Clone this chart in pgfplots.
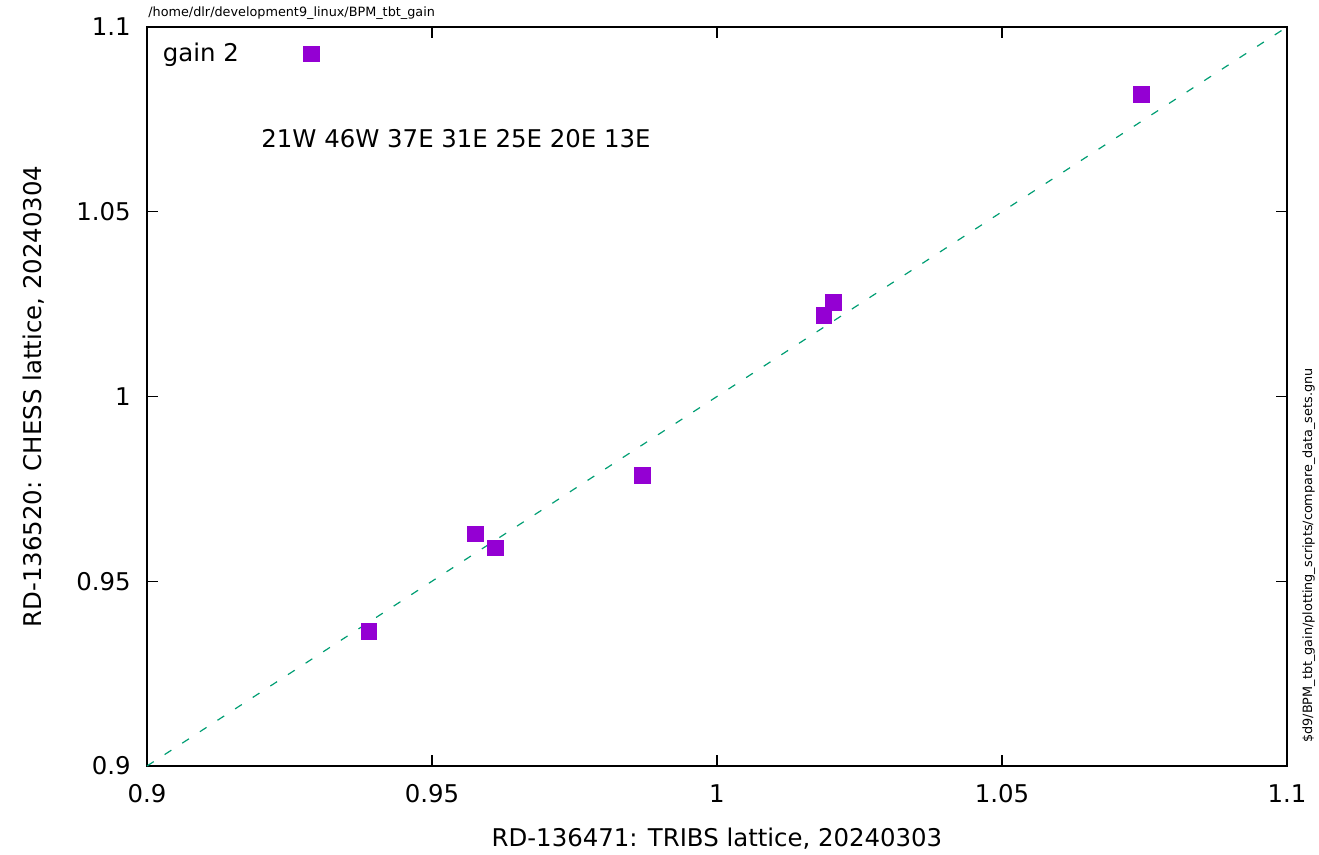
\documentclass[border=0pt]{standalone}
\usepackage{fontspec}
\setmainfont{DejaVu Sans}
\usepackage{pgfplots}
\pgfplotsset{compat=1.18}
\usetikzlibrary{calc}
\definecolor{gpviolet}{HTML}{9400D3}
\definecolor{gpgreen}{HTML}{009E73}
\begin{document}
\begin{tikzpicture}
\begin{axis}[name=ax, scale only axis, width=570pt, height=369.5pt,
  xmin=0.9, xmax=1.1, ymin=0.9, ymax=1.1,
  xtick={0.9,0.95,1,1.05,1.1}, ytick={0.9,0.95,1,1.05,1.1},
  xticklabels={0.9,0.95,1,1.05,1.1}, yticklabels={0.9,0.95,1,1.05,1.1},
  tick align=inside, major tick length=5.5pt, minor tick num=0,
  axis line style={line width=1pt},
  every tick/.style={black, line width=0.6pt},
  font=\fontsize{12.2}{14.6}\selectfont,
  xticklabel style={anchor=base, inner sep=0pt, yshift=-18.5pt},
  yticklabel style={anchor=east, inner sep=0pt, xshift=-8pt},
  xlabel={RD-136471: TRIBS lattice, 20240303},
  ylabel={RD-136520: CHESS lattice, 20240304},
  xlabel style={at={(rel axis cs:0.5,0)}, anchor=base, inner sep=0pt, yshift=-40.5pt},
  ylabel style={at={($(rel axis cs:0,0.5)+(-52.5pt,0)$)}, anchor=base, inner sep=0pt},
  clip=false,
  legend style={at={(rel axis cs:0,1)}, anchor=north west, draw=none, fill=none,
    inner sep=0pt, outer sep=0pt, xshift=8pt, yshift=-8pt, column sep=0pt,
    nodes={inner sep=0pt}},
  legend plot pos=right,
  legend image code/.code={\path (0pt,0pt); \draw[#1] plot coordinates {(36pt,0pt)};},
]
\addplot[only marks, mark=square*, mark size=3.9pt, color=gpviolet, mark options={draw=gpviolet, fill=gpviolet}]
  coordinates {
  (0.93895,0.93635)
  (0.95763,0.96284)
  (0.96114,0.95905)
  (0.98693,0.97871)
  (1.01872,1.02188)
  (1.02041,1.02551)
  (1.07447,1.08173)
  };
\addlegendentry{gain 2}
\addplot[forget plot, gpgreen, line width=0.6pt, dash pattern=on 4pt off 6.5pt] coordinates {(0.9,0.9) (1.1,1.1)};
\node[anchor=base west, inner sep=0pt] at (axis cs:0.92,1.06744) {21W 46W 37E 31E 25E 20E 13E};
\node[anchor=base west, inner sep=0pt, font=\fontsize{6.4}{7.7}\selectfont] at ($(rel axis cs:0,1)+(0.5pt,5.25pt)$) {/home/dlr/development9\_linux/BPM\_tbt\_gain};
\node[anchor=base west, inner sep=0pt, rotate=90, font=\fontsize{6.4}{7.7}\selectfont] at ($(rel axis cs:1,0)+(12.5pt,11.5pt)$) {\$d9/BPM\_tbt\_gain/plotting\_scripts/compare\_data\_sets.gnu};
\end{axis}
\pgfresetboundingbox
\path (ax.south west) ++(-73.5pt,-44.5pt) rectangle ++(659.5pt,427.5pt);
\end{tikzpicture}
\end{document}
